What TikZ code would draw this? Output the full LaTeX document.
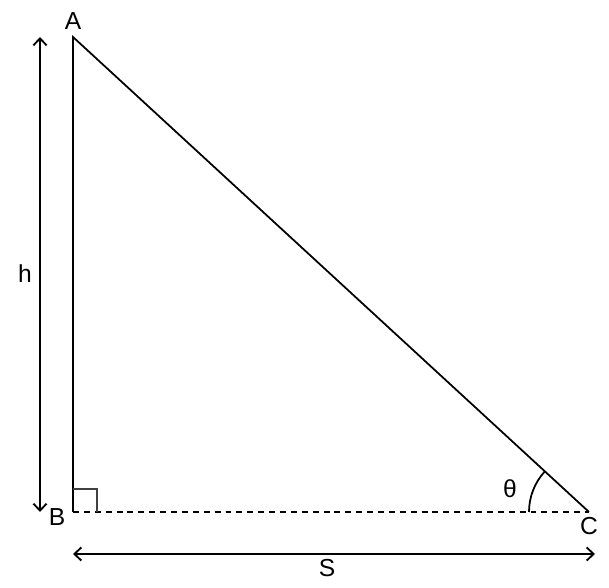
\documentclass[tikz,border=0pt]{standalone}
\usepackage{fontspec}
\setmainfont{Liberation Sans}
\usetikzlibrary{positioning}
\usetikzlibrary{arrows.meta}

\tikzset{
  side/.style={line width=1pt},
  dimline/.style={line width=1.05pt, {Straight Barb[length=4pt,width=7.5pt]}-{Straight Barb[length=4pt,width=7.5pt]}},
  lbl/.style={font=\fontsize{14}{16}\selectfont, inner sep=1pt}
}

\begin{document}
\begin{tikzpicture}[x=0.02cm, y=0.02cm]
            \useasboundingbox (0,0) rectangle (609,588);
            % corners of the triangle
            \coordinate (A) at (73,551);
            \coordinate (B) at (73,76);
            \coordinate (C) at (589,76);
            
            \draw[side] (B) -- (A) -- (C);
            \draw[side, dash pattern=on 3.4pt off 2.8pt] (B) -- (C);
            
            % right angle and angle at C
            \draw[line width=0.7pt, black!75] (B) ++(0,23) -| ++(24,-23);
            \draw[side] (C) ++(180:60) arc[start angle=180, end angle=137.4, radius=60];
            
            \node[lbl, above=3pt of A] (labA) {A};
            \node[lbl] (labB) at (57,71) {B};
            \node[lbl] (labC) at (589,62) {C};
            \node[lbl] (theta) at (510,99) {θ};
            
            % dimension arrows
            \coordinate (hTop) at (40,551);
            \coordinate (hBot) at (40,76);
            \coordinate (sLeft) at (73,34);
            \coordinate (sRight) at (595,34);
            \draw[dimline] (hTop) -- (hBot);
            \draw[dimline] (sLeft) -- (sRight);
            \node[lbl] (labH) at (25,314) {h};
            \node[lbl] (labS) at (327,20) {S};
        \end{tikzpicture}
\end{document}
